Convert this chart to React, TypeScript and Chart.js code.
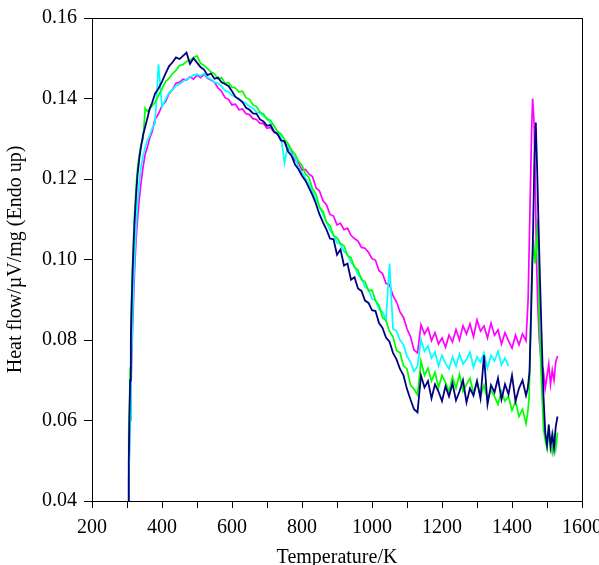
import React, { useEffect, useRef } from "react";
import { Chart, registerables } from "chart.js";

Chart.register(...registerables);

// Temperature grid (K) shared by the main part of all runs
const TEMPS = [
  303, 305, 307, 309, 311, 313, 316, 319, 322, 326, 330, 335, 340, 346, 352, 358, 365, 372, 380,
  390, 400, 410, 420, 430, 440, 450, 460, 470, 480,
  490, 500, 510, 520, 530, 540, 550, 560, 570, 580,
  590, 600, 610, 620, 630, 640, 650, 660, 670, 680,
  690, 700, 710, 720, 730, 740, 750, 760, 770, 780,
  790, 800, 810, 820, 830, 840, 850, 860, 870, 880,
  890, 900, 910, 920, 930, 940, 950, 960, 970, 980,
  990, 1000, 1010, 1020, 1030, 1040, 1050, 1060, 1070, 1080,
  1090, 1100, 1110, 1120, 1130, 1140, 1150, 1160, 1170, 1180,
  1190, 1200, 1210, 1220, 1230, 1240, 1250, 1260, 1270, 1280,
  1290, 1300, 1310, 1320, 1330, 1340, 1350, 1360, 1370, 1380,
  1390, 1400, 1410, 1420, 1430, 1440,
];

// Navy run
const NAVY = [
  0.040, 0.050, 0.061, 0.070, 0.080, 0.088, 0.097, 0.104, 0.110, 0.116, 0.121, 0.125, 0.128, 0.131, 0.133, 0.135, 0.1375, 0.139, 0.1412,
  0.1425, 0.1442, 0.1462, 0.1480, 0.1490, 0.1502, 0.1498, 0.1506, 0.1514, 0.1486,
  0.1500, 0.1489, 0.1478, 0.1472, 0.1458, 0.1462, 0.1449, 0.1452, 0.1440, 0.1436,
  0.1431, 0.1418, 0.1404, 0.1398, 0.1391, 0.1377, 0.1372, 0.1363, 0.1362, 0.1348,
  0.1343, 0.1332, 0.1334, 0.1318, 0.1312, 0.1296, 0.1294, 0.1268, 0.1258, 0.1236,
  0.1224, 0.1208, 0.1196, 0.1178, 0.1160, 0.1138, 0.1112, 0.1092, 0.1074, 0.1052,
  0.1050, 0.1012, 0.1025, 0.0985, 0.0990, 0.0950, 0.0956, 0.0928, 0.0922, 0.0898,
  0.0892, 0.0874, 0.0872, 0.0842, 0.0830, 0.0806, 0.0796, 0.0768, 0.0752, 0.0728,
  0.0712, 0.0678, 0.0652, 0.0628, 0.0620, 0.0712, 0.0682, 0.0698, 0.0655, 0.0690,
  0.0672, 0.0648, 0.0685, 0.0660, 0.0692, 0.0650, 0.0672, 0.0700, 0.0645, 0.0680,
  0.0662, 0.0698, 0.0655, 0.0762, 0.0640, 0.0688, 0.0670, 0.0705, 0.0652, 0.0690,
  0.0665, 0.0712, 0.0648, 0.0680, 0.0700, 0.0662,
];
const NAVY_TAIL_T = [1445, 1450, 1455, 1460, 1464, 1468, 1472, 1476, 1480, 1485, 1490, 1495, 1500, 1505, 1510, 1515, 1520, 1525, 1530];
const NAVY_TAIL = [0.0680, 0.0720, 0.0880, 0.1060, 0.1250, 0.1340, 0.1220, 0.1080, 0.0950, 0.0800, 0.0660, 0.0570, 0.0540, 0.0590, 0.0535, 0.0565, 0.0530, 0.0585, 0.0610];

// Magenta run
const MAGENTA = [
  0.040, 0.046, 0.053, 0.060, 0.067, 0.074, 0.083, 0.091, 0.098, 0.105, 0.110, 0.115, 0.119, 0.123, 0.1262, 0.1278, 0.1302, 0.1318, 0.1348,
  0.1362, 0.1382, 0.1392, 0.1412, 0.1422, 0.1438, 0.1440, 0.1448, 0.1446, 0.1454,
  0.1448, 0.1458, 0.1452, 0.1460, 0.1450, 0.1446, 0.1440, 0.1426, 0.1418, 0.1402,
  0.1398, 0.1384, 0.1386, 0.1372, 0.1374, 0.1362, 0.1360, 0.1350, 0.1348, 0.1338,
  0.1338, 0.1326, 0.1328, 0.1316, 0.1312, 0.1296, 0.1292, 0.1276, 0.1268, 0.1246,
  0.1240, 0.1222, 0.1224, 0.1212, 0.1206, 0.1178, 0.1170, 0.1146, 0.1136, 0.1112,
  0.1108, 0.1086, 0.1090, 0.1074, 0.1078, 0.1060, 0.1052, 0.1046, 0.1030, 0.1028,
  0.1018, 0.1002, 0.0998, 0.0972, 0.0965, 0.0940, 0.0938, 0.0910, 0.0895, 0.0870,
  0.0856, 0.0828, 0.0808, 0.0775, 0.0768, 0.0838, 0.0815, 0.0830, 0.0798, 0.0818,
  0.0790, 0.0805, 0.0782, 0.0812, 0.0795, 0.0826, 0.0800, 0.0835, 0.0815, 0.0840,
  0.0808, 0.0850, 0.0822, 0.0835, 0.0805, 0.0842, 0.0812, 0.0825, 0.0790, 0.0818,
  0.0798, 0.0780, 0.0812, 0.0788, 0.0815, 0.0798,
];
const MAGENTA_TAIL_T = [1446, 1451, 1456, 1459, 1463, 1466, 1470, 1474, 1478, 1482, 1486, 1490, 1495, 1500, 1505, 1510, 1515, 1520, 1525, 1530];
const MAGENTA_TAIL = [0.0900, 0.1110, 0.1320, 0.1400, 0.1340, 0.1220, 0.1000, 0.0880, 0.0800, 0.0760, 0.0700, 0.0720, 0.0680, 0.0710, 0.0740, 0.0690, 0.0725, 0.0700, 0.0745, 0.0760];

// Green run
const GREEN = [
  0.052, 0.058, 0.064, 0.073, 0.082, 0.090, 0.099, 0.106, 0.112, 0.118, 0.1225, 0.126, 0.1285, 0.1300, 0.1376, 0.1368, 0.1374, 0.1382, 0.1390,
  0.1408, 0.1424, 0.1442, 0.1450, 0.1462, 0.1470, 0.1482, 0.1484, 0.1492, 0.1494,
  0.1502, 0.1506, 0.1488, 0.1482, 0.1474, 0.1466, 0.1462, 0.1448, 0.1452, 0.1438,
  0.1440, 0.1428, 0.1426, 0.1416, 0.1418, 0.1402, 0.1398, 0.1384, 0.1380, 0.1366,
  0.1362, 0.1348, 0.1346, 0.1332, 0.1318, 0.1312, 0.1298, 0.1288, 0.1272, 0.1262,
  0.1244, 0.1234, 0.1212, 0.1204, 0.1176, 0.1162, 0.1130, 0.1120, 0.1092, 0.1084,
  0.1060, 0.1054, 0.1040, 0.1034, 0.1010, 0.1004, 0.0980, 0.0974, 0.0950, 0.0945,
  0.0922, 0.0924, 0.0898, 0.0886, 0.0856, 0.0848, 0.0822, 0.0808, 0.0774, 0.0768,
  0.0736, 0.0728, 0.0688, 0.0678, 0.0664, 0.0748, 0.0712, 0.0730, 0.0698, 0.0720,
  0.0682, 0.0712, 0.0695, 0.0672, 0.0708, 0.0680, 0.0715, 0.0672, 0.0690, 0.0705,
  0.0668, 0.0698, 0.0660, 0.0688, 0.0652, 0.0675, 0.0660, 0.0640, 0.0672, 0.0648,
  0.0660, 0.0625, 0.0648, 0.0610, 0.0628, 0.0592,
];
const GREEN_TAIL_T = [1445, 1449, 1453, 1456, 1461, 1466, 1470, 1474, 1478, 1482, 1486, 1490, 1495, 1500, 1505, 1510, 1515, 1520, 1525, 1530];
const GREEN_TAIL = [0.0620, 0.0660, 0.0820, 0.0950, 0.1050, 0.0990, 0.1030, 0.1100, 0.0850, 0.0750, 0.0660, 0.0580, 0.0550, 0.0530, 0.0575, 0.0540, 0.0520, 0.0560, 0.0530, 0.0570];

// Cyan run (ends at 1390 K)
const CYAN = [
  0.040, 0.045, 0.052, 0.060, 0.068, 0.076, 0.086, 0.094, 0.101, 0.108, 0.114, 0.119, 0.123, 0.1258, 0.1278, 0.1296, 0.1308, 0.1326, 0.1338,
  0.1485, 0.1380, 0.1398, 0.1414, 0.1422, 0.1432, 0.1436, 0.1442, 0.1448, 0.1452,
  0.1458, 0.1460, 0.1456, 0.1462, 0.1452, 0.1448, 0.1440, 0.1438, 0.1430, 0.1420,
  0.1416, 0.1408, 0.1404, 0.1398, 0.1392, 0.1388, 0.1380, 0.1376, 0.1366, 0.1364,
  0.1356, 0.1352, 0.1338, 0.1332, 0.1318, 0.1306, 0.1240, 0.1286, 0.1262, 0.1254,
  0.1228, 0.1216, 0.1202, 0.1188, 0.1168, 0.1148, 0.1130, 0.1112, 0.1094, 0.1072,
  0.1062, 0.1042, 0.1038, 0.1020, 0.1012, 0.0992, 0.0984, 0.0962, 0.0954, 0.0932,
  0.0926, 0.0902, 0.0898, 0.0876, 0.0870, 0.0850, 0.0990, 0.0828, 0.0822, 0.0800,
  0.0788, 0.0760, 0.0745, 0.0722, 0.0735, 0.0800, 0.0772, 0.0785, 0.0755, 0.0770,
  0.0735, 0.0762, 0.0742, 0.0728, 0.0758, 0.0735, 0.0765, 0.0740, 0.0752, 0.0770,
  0.0732, 0.0758, 0.0745, 0.0768, 0.0730, 0.0762, 0.0748, 0.0772, 0.0738, 0.0755,
  0.0735,
];

const X_MIN = 200;
const X_MAX = 1600;
const Y_MIN = 0.04;
const Y_MAX = 0.16;

function buildPoints(main: number[], tailT: number[], tailV: number[]) {
  const pts = main.map((v, i) => ({ x: TEMPS[i], y: v }));
  tailT.forEach((t, i) => pts.push({ x: t, y: tailV[i] }));
  return pts;
}

const FONT = { family: "'Liberation Serif', 'Times New Roman', serif", size: 20 };

const framePlugin = {
  id: "frame",
  afterDatasetsDraw(chart: any) {
    const { ctx, chartArea } = chart;
    ctx.save();
    ctx.strokeStyle = "#000";
    ctx.lineWidth = 1;
    ctx.strokeRect(
      Math.round(chartArea.left) + 0.5,
      Math.round(chartArea.top) + 0.5,
      Math.round(chartArea.right - chartArea.left),
      Math.round(chartArea.bottom - chartArea.top)
    );
    ctx.restore();
  },
};

export default function App() {
  const ref = useRef<HTMLCanvasElement | null>(null);

  useEffect(() => {
    if (!ref.current) return;
    const mk = (label: string, color: string, data: any[], w: number) => ({
      label,
      data,
      borderColor: color,
      backgroundColor: color,
      borderWidth: w,
      pointRadius: 0,
      tension: 0,
      fill: false,
    });
    const chart = new Chart(ref.current, {
      type: "line",
      data: {
        datasets: [
          mk("navy", "#000080", buildPoints(NAVY, NAVY_TAIL_T, NAVY_TAIL), 1.8),
          mk("green", "#00ff00", buildPoints(GREEN, GREEN_TAIL_T, GREEN_TAIL), 1.7),
          mk("cyan", "#00ffff", buildPoints(CYAN, [], []), 1.7),
          mk("magenta", "#ff00ff", buildPoints(MAGENTA, MAGENTA_TAIL_T, MAGENTA_TAIL), 1.7),
        ],
      },
      options: {
        animation: false,
        responsive: false,
        parsing: false as any,
        layout: { padding: { left: 0, top: 18, right: 17, bottom: 0 } },
        plugins: { legend: { display: false }, tooltip: { enabled: false } },
        scales: {
          x: {
            type: "linear",
            min: X_MIN,
            max: X_MAX,
            afterFit: (s: any) => {
              s.height = 64;
              s.paddingLeft = 0;
              s.paddingRight = 0;
            },
            ticks: {
              stepSize: 100,
              autoSkip: false,
              maxRotation: 0,
              color: "#000",
              font: FONT,
              padding: 8,
              callback: (v: any) => (Number(v) % 200 === 0 ? String(v) : ""),
            },
            grid: { drawOnChartArea: false, drawTicks: true, tickLength: 7, color: "#000", tickColor: "#000" },
            border: { display: true, color: "#000", width: 1 },
            title: {
              display: true,
              text: "Temperature/K",
              color: "#000",
              font: { ...FONT, lineHeight: 1 },
              padding: { top: 0, bottom: -3 },
            },
          },
          y: {
            type: "linear",
            min: Y_MIN,
            max: Y_MAX,
            afterFit: (s: any) => {
              s.width = 92;
              s.paddingTop = 0;
              s.paddingBottom = 0;
            },
            ticks: {
              stepSize: 0.02,
              color: "#000",
              font: FONT,
              padding: 7,
              callback: (v: any) => Number(v).toFixed(2),
            },
            grid: { drawOnChartArea: false, drawTicks: true, tickLength: 8, color: "#000", tickColor: "#000" },
            border: { display: true, color: "#000", width: 1 },
            title: {
              display: true,
              text: "Heat flow/µV/mg (Endo up)",
              color: "#000",
              font: { ...FONT, lineHeight: 1 },
              padding: { top: 6, bottom: 0 },
            },
          },
        },
      },
      plugins: [framePlugin],
    });
    return () => chart.destroy();
  }, []);

  return (
    <div style={{ position: "absolute", left: 0, top: 0, width: 599, height: 565, background: "#fff" }}>
      <canvas ref={ref} width={599} height={565} style={{ display: "block" }} />
    </div>
  );
}
